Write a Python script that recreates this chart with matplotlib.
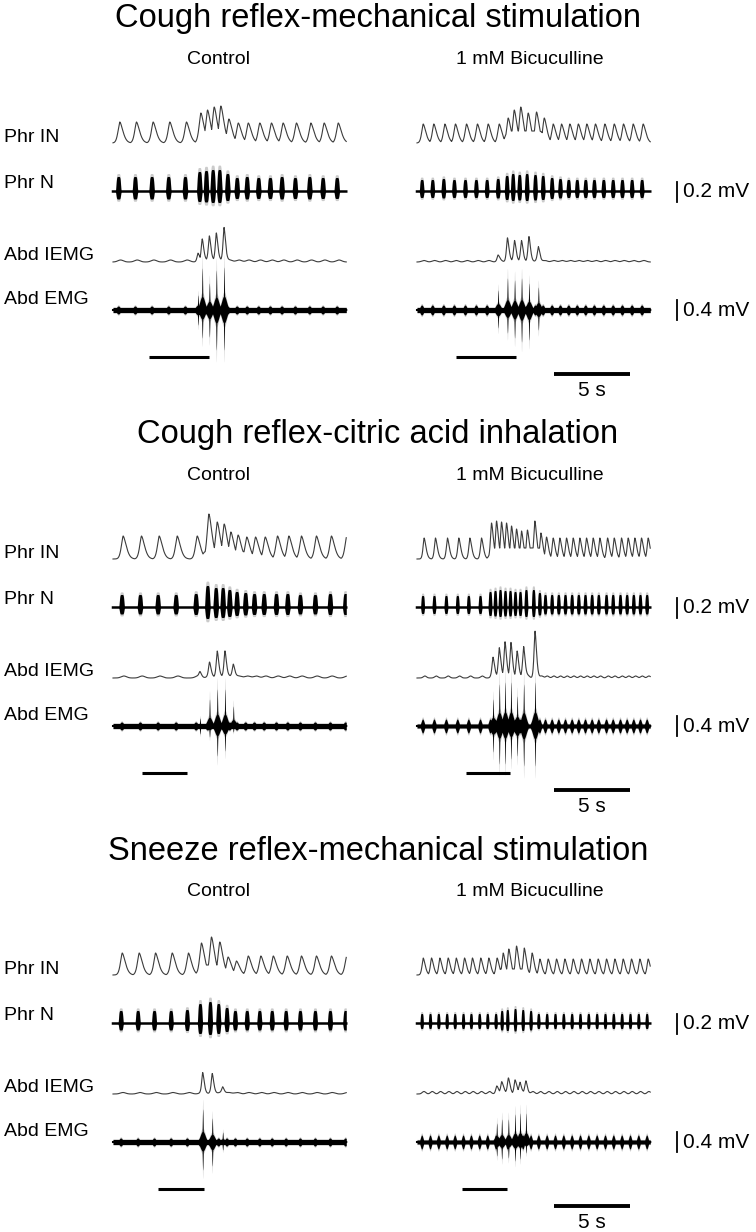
import numpy as np
import matplotlib.pyplot as plt

plt.rcParams['font.family'] = ['Liberation Sans', 'DejaVu Sans']

titles = ["Cough reflex-mechanical stimulation",
          "Cough reflex-citric acid inhalation",
          "Sneeze reflex-mechanical stimulation"]
conditions = ["Control", "1 mM Bicuculline"]
trace_names = ["Phr IN", "Phr N", "Abd IEMG", "Abd EMG"]
scale_labels = ["0.2 mV", "0.4 mV"]
time_bar_s = 5

# ---- cough, mechanical stimulation ----
# respiratory bursts (s from trace start), Phr IN peak heights, Phr N burst heights
A_ctl_resp_t = [0.35, 1.45, 2.55, 3.65, 4.75, 5.70, 6.14, 6.58, 7.02, 7.55, 8.17, 8.83, 9.59, 10.36, 11.13, 12.01, 12.96, 13.84, 14.77]
A_ctl_phr_in = [21, 21, 21, 21, 21, 30, 33, 36, 37, 24, 20, 20, 20, 20, 20, 20, 20, 20, 20]
A_ctl_phr_n = [15, 15, 15, 15, 15, 20, 21, 22, 22, 18, 14, 15, 14, 14, 15, 14, 15, 14, 14]
A_ctl_tonic = [5.6, 7.7, 10]           # start, end, level of raised Phr IN during the cough
A_ctl_abd_t = [5.61, 5.89, 6.36, 6.82, 7.33]
A_ctl_abd_in = [8, 21, 24, 27, 33]
A_ctl_abd_up = [15, 42, 27, 40, 43]
A_ctl_abd_dn = [15, 28, 27, 40, 40]

A_bic_resp_t = [0.31, 1.01, 1.74, 2.44, 3.17, 3.89, 4.60, 5.33, 5.92, 6.32, 6.75, 7.24, 7.79, 8.30, 8.89, 9.44, 9.99, 10.55, 11.11, 11.68, 12.30, 12.92, 13.53, 14.17, 14.83]
A_bic_phr_in = [19, 19, 19, 19, 19, 19, 19, 19, 25, 33, 36, 30, 31, 25, 19, 19, 19, 19, 19, 19, 19, 19, 19, 19, 19]
A_bic_phr_n = [12, 12, 13, 12, 12, 12, 12, 13, 16, 18, 17, 18, 17, 16, 14, 13, 12, 12, 12, 12, 12, 12, 12, 12, 12]
A_bic_tonic = [5.8, 8.4, 12]
A_bic_abd_t = [5.35, 5.97, 6.44, 6.90, 7.39, 8.01]
A_bic_abd_in = [6, 23, 20, 20, 24, 14]
A_bic_abd_up = [20, 32, 30, 32, 27, 23]
A_bic_abd_dn = [18, 23, 28, 32, 30, 20]

# ---- cough, citric acid ----
B_ctl_resp_t = [0.57, 1.78, 2.95, 4.14, 5.46, 6.23, 6.78, 7.24, 7.68, 8.16, 8.73, 9.31, 9.95, 10.76, 11.51, 12.34, 13.33, 14.32, 15.33]
B_ctl_phr_in = [23, 23, 23, 23, 23, 45, 37, 35, 27, 24, 22, 22, 22, 23, 23, 23, 23, 23, 23]
B_ctl_phr_n = [13, 13, 13, 13, 14, 22, 20, 20, 18, 16, 15, 14, 14, 14, 14, 13, 13, 14, 14]
B_ctl_tonic = [5.9, 8.8, 8]
B_ctl_abd_t = [5.74, 6.37, 6.88, 7.39, 7.94]
B_ctl_abd_in = [5, 14, 25, 25, 12]
B_ctl_abd_up = [8, 27, 37, 37, 20]
B_ctl_abd_dn = [8, 11, 30, 25, 6]

B_bic_resp_t = [0.37, 1.12, 1.91, 2.66, 3.39, 4.16, 4.82, 5.15, 5.48, 5.81, 6.14, 6.47, 6.80, 7.19, 7.68, 8.08,
                8.45, 8.89, 9.33, 9.77, 10.21, 10.65, 11.09, 11.53, 11.97, 12.48, 12.92, 13.40, 13.84, 14.28, 14.72, 15.16]
B_bic_phr_in = [21, 21, 21, 21, 21, 21, 36, 38, 37, 36, 33, 30, 28, 29, 38, 26,
                22, 21, 21, 21, 21, 21, 21, 21, 21, 21, 21, 21, 21, 21, 21, 21]
B_bic_phr_n = [12, 12, 12, 12, 12, 12, 16, 17, 18, 17, 17, 16, 16, 18, 18, 15,
               13, 13, 13, 13, 13, 13, 13, 13, 13, 13, 13, 13, 13, 13, 13, 13]
B_bic_tonic = [4.8, 8.4, 11]
B_bic_abd_t = [5.02, 5.43, 5.81, 6.20, 6.61, 7.04, 7.79]
B_bic_abd_in = [19, 29, 35, 34, 25, 30, 45]
B_bic_abd_up = [27, 42, 44, 44, 30, 42, 44]
B_bic_abd_dn = [26, 38, 38, 33, 30, 40, 40]

# ---- sneeze, mechanical stimulation ----
C_ctl_resp_t = [0.51, 1.63, 2.71, 3.81, 4.88, 5.74, 6.40, 6.95, 7.50, 8.05, 8.83, 9.66, 10.48, 11.40, 12.34, 13.33, 14.32, 15.33]
C_ctl_phr_in = [22, 22, 22, 22, 22, 32, 38, 33, 18, 14, 19, 19, 19, 19, 19, 19, 19, 19]
C_ctl_phr_n = [13, 13, 13, 13, 14, 20, 22, 20, 16, 13, 13, 13, 13, 13, 13, 13, 13, 13]
C_ctl_tonic = [5.6, 7.3, 10]
C_ctl_abd_t = [5.92, 6.55, 7.24]
C_ctl_abd_in = [20, 19, 6]
C_ctl_abd_up = [33, 24, 10]
C_ctl_abd_dn = [28, 24, 8]

C_bic_resp_t = [0.31, 0.86, 1.41, 1.96, 2.49, 3.04, 3.56, 4.11, 4.64, 5.19, 5.59, 5.96, 6.47, 6.98, 7.50,
                8.01, 8.56, 9.11, 9.66, 10.21, 10.76, 11.31, 11.86, 12.41, 12.96, 13.51, 14.06, 14.61, 15.16]
C_bic_phr_in = [17, 17, 17, 17, 17, 17, 17, 17, 17, 17, 22, 26, 29, 27, 22,
                16, 16, 16, 16, 16, 16, 16, 16, 16, 16, 16, 16, 16, 16]
C_bic_phr_n = [10, 10, 10, 10, 10, 10, 10, 10, 10, 10, 13, 14, 15, 14, 13,
               10, 10, 10, 10, 10, 10, 10, 10, 10, 10, 10, 10, 10, 10]
C_bic_tonic = [5.3, 7.4, 6]
C_bic_abd_t = [5.26, 5.59, 6.03, 6.47, 6.80, 7.19]
C_bic_abd_in = [6, 11, 14, 13, 11, 11]
C_bic_abd_up = [19, 23, 23, 28, 29, 29]
C_bic_abd_dn = [14, 17, 16, 19, 17, 11]

# stimulus bars (s from trace start)
stim_ctl = [(2.38, 6.34), (1.91, 4.88), (2.97, 6.01)]
stim_bic = [(2.55, 6.51), (3.21, 6.14), (2.99, 5.92)]

# per trace: kernel width scale, Phr N burst half width, IEMG ripple, EMG ripple, EMG noise band
shape = {
    'A_ctl': (1.0, 0.14, 2.0, 4, 2.5), 'A_bic': (0.85, 0.12, 1.5, 5, 2.5),
    'B_ctl': (1.0, 0.14, 2.0, 4, 2.5), 'B_bic': (0.6, 0.10, 2.0, 7, 2.0),
    'C_ctl': (1.0, 0.13, 1.5, 4, 2.5), 'C_bic': (0.65, 0.09, 2.5, 7, 2.0),
}

PX_PER_S = 15.15                        # 5 s = ~76 px
DUR = 15.4
X_RIGHT = (417 - 113) / PX_PER_S        # start of the bicuculline traces
PANEL_DY = 416
ROWS = [143, 191.5, 262, 310]


def px(x):
    return (x - 113) / PX_PER_S


def gauss(t, c, s):
    return np.exp(-0.5 * ((t - c) / s) ** 2)


def flat(t, c, hw, p=6):
    return np.exp(-0.5 * np.abs((t - c) / hw) ** p)


def skew(t, c, rise, decay, p=1.6):
    d = t - c
    return np.exp(-0.5 * np.abs(d / np.where(d < 0, rise, decay)) ** p)


def plateau(t, a, b, w=0.15):
    return 0.25 * (1 + np.tanh((t - a) / w)) * (1 + np.tanh((b - t) / w))


def draw_side(ax, key, x0, y0):
    g = globals()
    rt = g[key + '_resp_t']; pin = g[key + '_phr_in']; pn = g[key + '_phr_n']
    a, b, lev = g[key + '_tonic']
    at = g[key + '_abd_t']; ain = g[key + '_abd_in']; aup = g[key + '_abd_up']; adn = g[key + '_abd_dn']
    ws, nhw, rip_in, rip_emg, band = shape[key]
    t = np.arange(0, DUR, 0.004)
    x = t + x0

    # Phr IN
    pk = np.max([h * skew(t, c + 0.1, 0.11 * ws, 0.19 * ws) for c, h in zip(rt, pin)], axis=0)
    y = np.maximum(pk, lev * plateau(t, a, b))
    ax.plot(x, y0 + ROWS[0] - y, color='#3c3c3c', lw=0.8)

    # Phr N
    env = np.max([h * flat(t, c, nhw) for c, h in zip(rt, pn)], axis=0)
    base = y0 + ROWS[1]
    ax.fill_between(x, base - 1.2 * env, base + 0.65 * env, color='0.55', alpha=0.45, lw=0)
    ax.fill_between(x, base - env, base + 0.5 * env, color='black', lw=0)
    ax.plot(x, np.full_like(t, base), color='black', lw=1.8)

    # Abd IEMG
    rip = np.sum([rip_in * gauss(t, c + 0.15, 0.18 * ws) for c in rt], axis=0)
    pk = np.max([h * skew(t, c, 0.06, 0.09) for c, h in zip(at, ain)], axis=0)
    ax.plot(x, y0 + ROWS[2] - rip - pk, color='#3c3c3c', lw=0.8)

    # Abd EMG
    base = y0 + ROWS[3]
    r = np.max([rip_emg * flat(t, c, nhw * 0.9, 2) for c in rt], axis=0)
    r = np.maximum(r, band)
    up = np.max([u * gauss(t, c, 0.025) for c, u in zip(at, aup)]
                + [0.33 * u * flat(t, c, 0.16, 2) for c, u in zip(at, aup)], axis=0)
    dn = np.max([v * gauss(t, c, 0.025) for c, v in zip(at, adn)]
                + [0.33 * v * flat(t, c, 0.16, 2) for c, v in zip(at, adn)], axis=0)
    up = np.maximum(up, r); dn = np.maximum(dn, r)
    ax.fill_between(x, base - 1.3 * up, base + 1.3 * dn, color='0.55', alpha=0.45, lw=0)
    ax.fill_between(x, base - up, base + dn, color='black', lw=0)
    ax.plot(x, np.full_like(t, base), color='black', lw=1.5)


fig = plt.figure(figsize=(7.56, 12.32), dpi=100)
ax = fig.add_axes([0, 0, 1, 1])
ax.set_xlim(px(0), px(756))
ax.set_ylim(1232, 0)
ax.axis('off')

for k, p in enumerate(['A', 'B', 'C']):
    y0 = PANEL_DY * k
    ax.text(px(378), y0 + 19, titles[k], ha='center', va='center', fontsize=23.5)
    ax.text(px(218), y0 + 60, conditions[0], ha='center', va='center', fontsize=14)
    ax.text(px(529.5), y0 + 60, conditions[1], ha='center', va='center', fontsize=14)
    for name, yy in zip(trace_names, [138, 183, 255, 300]):
        ax.text(px(4), y0 + yy, name, ha='left', va='center', fontsize=14)

    draw_side(ax, p + '_ctl', 0, y0)
    draw_side(ax, p + '_bic', X_RIGHT, y0)

    s0, s1 = stim_ctl[k]
    ax.plot([s0, s1], [y0 + 357, y0 + 357], color='black', lw=2.2, solid_capstyle='butt')
    s0, s1 = stim_bic[k]
    ax.plot([X_RIGHT + s0, X_RIGHT + s1], [y0 + 357, y0 + 357], color='black', lw=2.2, solid_capstyle='butt')

    # scale bars
    tb = px(554)
    ax.plot([tb, tb + time_bar_s], [y0 + 374, y0 + 374], color='black', lw=2.8, solid_capstyle='butt')
    ax.text(tb + time_bar_s / 2, y0 + 390, "%d s" % time_bar_s, ha='center', va='center', fontsize=15)
    for lab, row in zip(scale_labels, [ROWS[1], ROWS[3]]):
        ax.plot([px(677), px(677)], [y0 + row - 10, y0 + row + 10], color='black', lw=1.3)
        ax.text(px(683), y0 + row, lab, ha='left', va='center', fontsize=15)

fig.savefig('out.png', dpi=100)
